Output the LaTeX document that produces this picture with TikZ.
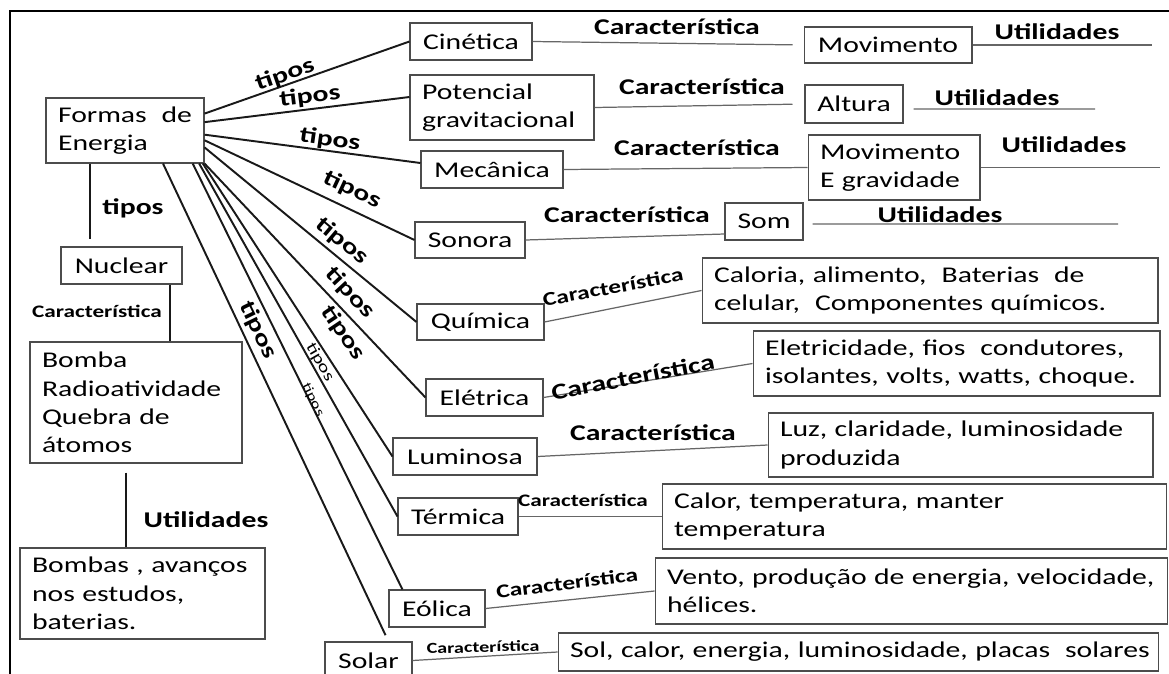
\documentclass[tikz,border=0pt]{standalone}
\usepackage{fontspec}
\setmainfont{Carlito}[FakeStretch=1.32]
\usetikzlibrary{calc}

\begin{document}
\begin{tikzpicture}[x=0.02cm, y=-0.02cm,
  font=\fontsize{12.8}{16.2}\selectfont,
  caixa/.style={draw=black!70, line width=0.6pt, inner xsep=0.24cm, inner ysep=0pt},
  texto/.style={caixa, align=left},
  ramo/.style={black!90, line width=1.1pt},
  liga/.style={black!60, line width=0.7pt},
  rotulo/.style={inner sep=1pt, font=\fontsize{#1}{#1}\selectfont\bfseries},
  rotulo/.default=12.8,
  fino/.style={inner sep=1pt, font=\fontsize{#1}{#1}\selectfont}]
  \useasboundingbox (0,0) rectangle (1169,673);
  \fill[white] (0,0) rectangle (1169,673);
  % moldura
  \draw[line width=1.7pt] (1175,11) -- (10,11) -- (10,690);

  % raiz e ramo nuclear
  \node[texto, text width=2.68cm, minimum height=1.30cm] (formas) at (125,130.5) {Formas\hfill de\\Energia};
  \node[caixa, minimum width=2.42cm, minimum height=0.74cm] (nuclear) at (121.5,265.5) {Nuclear};
  \node[texto, text width=3.76cm, minimum height=2.42cm] (bomba) at (136,402.5) {Bomba\\Radioatividade\\Quebra de\\átomos};
  \node[texto, text width=4.42cm, minimum height=1.82cm] (bombas) at (142.5,593.5) {Bombas , avanços\\nos estudos,\\baterias.};

  % tipos de energia
  \node[caixa, minimum width=2.44cm, minimum height=0.74cm] (cinetica) at (471,41.5) {Cinética};
  \node[texto, text width=3.20cm, minimum height=1.30cm] (potencial) at (502,107.5) {Potencial\\gravitacional};
  \node[caixa, minimum width=2.84cm, minimum height=0.74cm] (mecanica) at (492,169.5) {Mecânica};
  \node[caixa, minimum width=2.20cm, minimum height=0.72cm] (sonora) at (470,240) {Sonora};
  \node[caixa, minimum width=2.54cm, minimum height=0.72cm] (quimica) at (480.5,322) {Química};
  \node[caixa, minimum width=2.34cm, minimum height=0.74cm] (eletrica) at (484.5,397.5) {Elétrica};
  \node[caixa, minimum width=2.88cm, minimum height=0.74cm] (luminosa) at (465,456.5) {Luminosa};
  \node[caixa, minimum width=2.40cm, minimum height=0.74cm] (termica) at (458,516.5) {Térmica};
  \node[caixa, minimum width=1.92cm, minimum height=0.74cm] (eolica) at (437,608.5) {Eólica};
  \node[caixa, minimum width=1.74cm, minimum height=0.74cm] (solar) at (368.5,660.5) {Solar};

  % caracteristicas
  \node[caixa, minimum width=3.36cm, minimum height=0.72cm] (movimento) at (888,45) {Movimento};
  \node[caixa, minimum width=1.96cm, minimum height=0.76cm] (altura) at (854,104) {Altura};
  \node[texto, text width=2.96cm, minimum height=1.30cm] (movgrav) at (894,167.5) {Movimento\\E gravidade};
  \node[caixa, minimum width=1.56cm, minimum height=0.74cm] (som) at (764,221.5) {Som};
  \node[texto, text width=8.64cm, minimum height=1.30cm] (caloria) at (930,290.5) {Caloria, alimento,~ Baterias~ de\\celular,~ Componentes químicos.};
  \node[texto, text width=7.66cm, minimum height=1.30cm] (eletricidade) at (956.5,363.5) {Eletricidade, fios~ condutores,\\isolantes, volts, watts, choque.};
  \node[texto, text width=7.22cm, minimum height=1.28cm] (luz) at (960.5,445) {Luz, claridade, luminosidade\\produzida};
  \node[texto, text width=9.62cm, minimum height=1.30cm] (calor) at (914.5,516.5) {Calor, temperatura, manter\\temperatura};
  \node[texto, text width=9.78cm, minimum height=1.32cm] (vento) at (911.5,591) {\mbox{Vento, produção de energia, velocidade,}\\hélices.};
  \node[texto, text width=11.54cm, minimum height=0.76cm] (sol) at (858.5,652) {\mbox{Sol, calor, energia, luminosidade, placas~ solares}};

  % pontas livres das utilidades
  \coordinate (u1) at (1152,45);
  \coordinate (u2) at (1095,109);
  \coordinate (u3) at (1160,167.5);
  \coordinate (u4) at (1118,224);

  % ramos "tipos"
  \draw[ramo] (formas.12) -- (cinetica.west);
  \draw[ramo] (formas.6) -- ([yshift=0.21cm]potencial.west);
  \draw[ramo] (formas.-3) -- ([yshift=0.13cm]mecanica.west);
  \draw[ramo] (formas.-7) -- (sonora.west);
  \draw[ramo] (formas.-12) -- (quimica.west);
  \draw[ramo] (formas.south east) -- (eletrica.west);
  \draw[ramo] (formas.-23) -- (luminosa.west);
  \draw[ramo] (formas.-24) -- (termica.west);
  \draw[ramo] (formas.-26) -- ([xshift=0.28cm]eolica.north west);
  \draw[ramo, shorten >=0.14cm] (formas.-41) -- ([xshift=0.4cm]solar.north);
  \draw[ramo, shorten >=0.14cm] ([xshift=-0.7cm]formas.south) -- ([xshift=-0.7cm]formas.south |- nuclear.north);
  \draw[ramo] ([xshift=0.97cm]nuclear.south) -- ([xshift=0.97cm]nuclear.south |- bomba.north);
  \draw[ramo, shorten <=0.18cm] ([xshift=-0.2cm]bomba.south) -- ([xshift=-0.2cm]bomba.south |- bombas.north);

  % ligacoes das caracteristicas
  \draw[liga, shorten >=0.22cm] (cinetica.east) -- (movimento.west);
  \draw[liga, shorten >=0.24cm] (potencial.east) -- (altura.west);
  \draw[liga] (mecanica.east) -- (movgrav.west);
  \draw[liga] (sonora.east) -- ([yshift=-0.25cm]som.west);
  \draw[liga] (quimica.east) -- (caloria.west);
  \draw[liga] (eletrica.east) -- (eletricidade.west);
  \draw[liga] (luminosa.east) -- (luz.west);
  \draw[liga] (termica.east) -- (calor.west);
  \draw[liga] (eolica.east) -- (vento.west);
  \draw[liga] (solar.east) -- (sol.west);
  \draw[liga] (movimento.east) -- (u1);
  \draw[liga, shorten <=0.2cm] ([yshift=-0.1cm]altura.east) -- (u2);
  \draw[liga] (movgrav.east) -- (u3);
  \draw[liga, shorten <=0.18cm] ([yshift=-0.05cm]som.east) -- (u4);

  % rotulos
  \node[rotulo] (tn) at (133,208) {tipos};
  \node[rotulo, rotate=19] (t1) at (285,75) {tipos};
  \node[rotulo, rotate=7] (t2) at (310,97) {tipos};
  \node[rotulo, rotate=-8] (t3) at (330,140) {tipos};
  \node[rotulo, rotate=-25] (t4) at (352,190) {tipos};
  \node[rotulo, rotate=-40] (t5) at (342,241) {tipos};
  \node[rotulo, rotate=-47] (t6) at (350,293) {tipos};
  \node[rotulo, rotate=-56] (t7) at (343,333) {tipos};
  \node[fino=9, rotate=-60] (t8) at (320,362) {tipos};
  \node[fino=7.5, rotate=-64] (t9) at (313,400) {tipos};
  \node[rotulo, rotate=-64] (t10) at (258,330) {tipos};

  \node[rotulo=10] (cn) at (97,311) {Característica};
  \node[rotulo] (c1) at (677,27) {Característica};
  \node[rotulo] (c2) at (702,87) {Característica};
  \node[rotulo] (c3) at (697,148) {Característica};
  \node[rotulo] (c4) at (627,215) {Característica};
  \node[rotulo=11, rotate=10.5] (c5) at (613,287) {Característica};
  \node[rotulo, rotate=11] (c6) at (633,377) {Característica};
  \node[rotulo] (c7) at (653,433) {Característica};
  \node[rotulo=10] (c8) at (583,500) {Característica};
  \node[rotulo=11, rotate=7] (c9) at (567,583) {Característica};
  \node[rotulo=8.7, rotate=1.5] (c10) at (483,647) {Característica};

  \node[rotulo] (un) at (206,520) {Utilidades};
  \node[rotulo] (ut1) at (1057,32) {Utilidades};
  \node[rotulo] (ut2) at (997,98) {Utilidades};
  \node[rotulo] (ut3) at (1064,145) {Utilidades};
  \node[rotulo] (ut4) at (940,215) {Utilidades};
\end{tikzpicture}
\end{document}
